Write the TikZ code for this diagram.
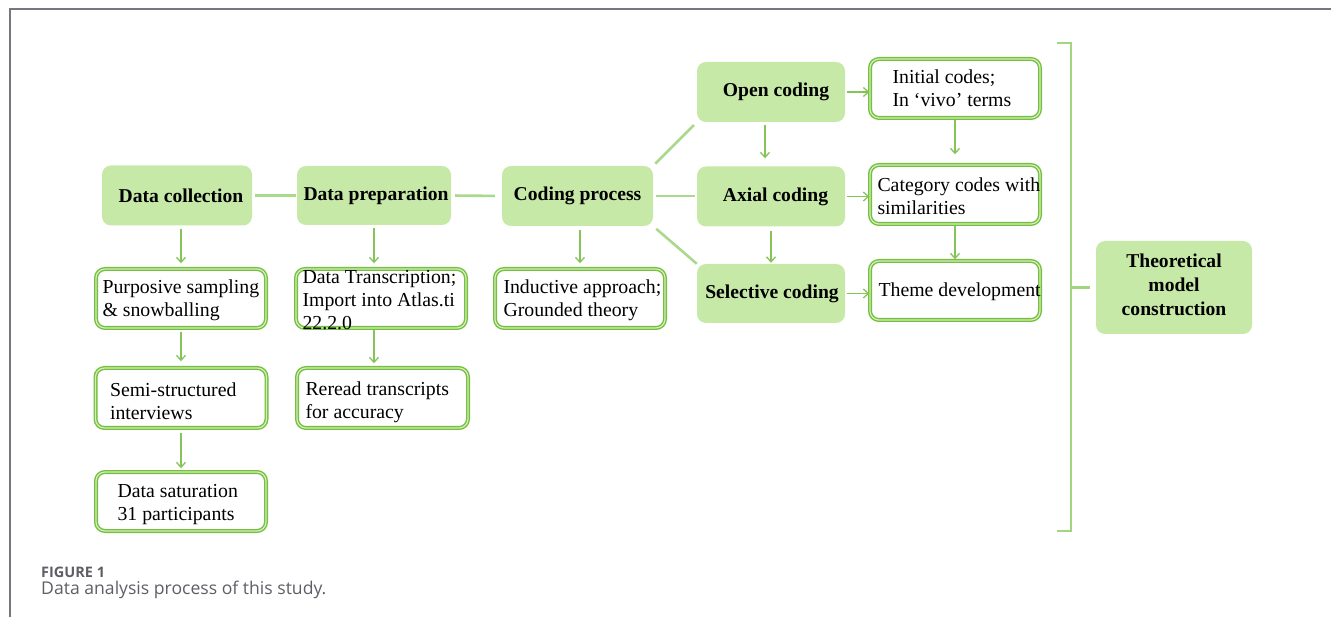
\documentclass[tikz,border=0pt]{standalone}
\usepackage{fontspec}
\setmainfont{Liberation Serif}
\newfontfamily\capfont{Open Sans}
\usetikzlibrary{arrows.meta,calc}
\definecolor{gfill}{HTML}{C6E9A8}
\definecolor{gline}{HTML}{A9D98C}
\definecolor{garrow}{HTML}{86C45A}
\definecolor{gborder}{HTML}{76C03E}
\definecolor{ginner}{HTML}{D2EEBD}
\definecolor{gbrack}{HTML}{A2D67E}
\definecolor{framec}{HTML}{76767E}
\definecolor{captxt}{HTML}{5E5E66}
\begin{document}
\begin{tikzpicture}[x=1pt,y=-1pt,
 gbox/.style={fill=gfill, rounded corners=9pt, inner sep=0pt},
 gtxt/.style={font=\fontsize{19.6}{24}\selectfont\bfseries, inner sep=0pt, align=center},
 wbox/.style={fill=white, draw=gborder, line width=1.4pt, double=ginner, double distance=1.2pt, rounded corners=9pt, inner sep=0pt},
 lbl/.style={font=\fontsize{19.8}{23}\selectfont, anchor=west, align=left, inner sep=0pt},
 arr/.style={draw=garrow, line width=1.3pt, -{Straight Barb[length=5pt,width=9pt]}},
 conn/.style={draw=gline, line width=2.6pt},
]
\useasboundingbox (0,0) rectangle (1331,617);
% frame
\draw[framec, line width=2pt] (9.5,617) -- (9.5,9.5) -- (1331,9.5);

% green boxes
\node[gbox, minimum width=150pt, minimum height=60pt] (dc) at (177,195.5) {};
\node[gbox, minimum width=154pt, minimum height=59pt] (dp) at (374,195.5) {};
\node[gbox, minimum width=151pt, minimum height=60pt] (cp) at (577.5,196) {};
\node[gbox, minimum width=148pt, minimum height=60pt] (oc) at (771,92) {};
\node[gbox, minimum width=148pt, minimum height=60pt] (ax) at (771,196.5) {};
\node[gbox, minimum width=148pt, minimum height=59pt] (sc) at (771,293.5) {};
\node[gbox, minimum width=156pt, minimum height=93pt] (tm) at (1174,287.5) {};

\node[gtxt] (dcl) at ($(dc)+(4,0)$) {Data collection};
\node[gtxt] (dpl) at ($(dp)+(2,0)$) {Data preparation};
\node[gtxt] (cpl) at (cp) {Coding process};
\node[gtxt] (ocl) at ($(oc)+(5,0)$) {Open coding};
\node[gtxt] (axl) at ($(ax)+(4.5,0)$) {Axial coding};
\node[gtxt] (scl) at ($(sc)+(1,0)$) {Selective coding};
\node[gtxt] (tml) at ($(tm)+(0,-2.5)$) {Theoretical\\model\\construction};

% white boxes
\node[wbox, minimum width=170pt, minimum height=59pt] (ps) at (181,298.5) {};
\node[wbox, minimum width=171pt, minimum height=60pt] (ss) at (181,398) {};
\node[wbox, minimum width=170pt, minimum height=59pt] (ds) at (181,501.5) {};
\node[wbox, minimum width=170pt, minimum height=59pt] (dt) at (381,298.5) {};
\node[wbox, minimum width=171pt, minimum height=60pt] (rr) at (382.5,398) {};
\node[wbox, minimum width=170pt, minimum height=59pt] (ia) at (580,298.5) {};
\node[wbox, minimum width=170pt, minimum height=59pt] (ic) at (955,88.5) {};
\node[wbox, minimum width=170pt, minimum height=59pt] (cc) at (955,194.5) {};
\node[wbox, minimum width=170pt, minimum height=59pt] (td) at (955,290.5) {};

\node[lbl] (psl) at ($(ps.west)+(7,2)$) {Purposive sampling\\\& snowballing};
\node[lbl] (ssl) at ($(ss.west)+(15,3.5)$) {Semi-structured\\interviews};
\node[lbl] (dsl) at ($(ds.west)+(22,3)$) {Data saturation\\31 participants};
\node[lbl] (dtl) at ($(dt.west)+(7,2)$) {Data Transcription;\\Import into Atlas.ti\\22.2.0};
\node[lbl] (rrl) at ($(rr.west)+(9,4)$) {Reread transcripts\\for accuracy};
\node[lbl] (ial) at ($(ia.west)+(9,2)$) {Inductive approach;\\Grounded theory};
\node[lbl] (icl) at ($(ic.west)+(23,0)$) {Initial codes;\\In `vivo' terms};
\node[lbl] (ccl) at ($(cc.west)+(8,1.5)$) {Category codes with\\similarities};
\node[lbl] (tdl) at ($(td.west)+(9,1.5)$) {Theme development};

% thick connectors
\draw[conn, shorten <=3pt, shorten >=1pt] (dc.east) -- (dp.west);
\draw[conn, shorten <=4pt, shorten >=7pt] (dp.east) -- (cp.west);
\draw[conn, shorten <=3pt, shorten >=2pt] (cp.east) -- (cp.east -| ax.west);
\draw[conn, shorten <=3pt, shorten >=4pt] (cp.north east) -- (oc.south west);
\draw[conn, shorten <=4pt, shorten >=0pt] (cp.south east) -- (sc.north west);

% arrows
\coordinate (cpa) at ($(cp.south)+(2.5,0)$);
\coordinate (oca) at ($(oc.south)+(-6,0)$);
\draw[arr, shorten <=3pt, shorten >=5pt] (ps.north |- dc.south) -- (ps.north);
\draw[arr, shorten <=3pt, shorten >=6pt] (ps.south) -- (ss.north);
\draw[arr, shorten <=4pt, shorten >=3pt] (ss.south) -- (ds.north);
\draw[arr, shorten <=3pt, shorten >=5pt] (dp.south) -- (dp.south |- dt.north);
\draw[arr, shorten <=1pt, shorten >=4pt] (dp.south |- dt.south) -- (dp.south |- rr.north);
\draw[arr, shorten <=4pt, shorten >=5pt] (cpa) -- (cpa |- ia.north);
\draw[arr, shorten <=3pt, shorten >=8pt] (oca) -- (oca |- ax.north);
\draw[arr, shorten <=4pt, shorten >=1pt] (ax.south) -- (sc.north);
\draw[arr, shorten <=1pt, shorten >=10pt] (ic.south) -- (cc.north);
\draw[arr, shorten <=1pt, shorten >=1pt] (cc.south) -- (td.north);
\draw[arr, shorten <=2pt, shorten >=0pt] (oc.east) -- (oc.east -| ic.west);
\draw[arr, shorten <=2pt, shorten >=0pt] (ax.east) -- (ax.east -| cc.west);
\draw[arr, shorten <=2pt, shorten >=0pt] (sc.east) -- (sc.east -| td.west);

% bracket
\coordinate (bt) at (1057,43);
\coordinate (bb) at (1057,531);
\coordinate (bm) at (1090,287.5);
\draw[gbrack, line width=2pt] (bt) -- (1071,43) -- (1071,531) -- (bb);
\draw[gbrack, line width=2.5pt] (1071,287.5) -- (bm);

% caption
\node[anchor=base west, inner sep=0pt, text=captxt, font=\capfont\bfseries\fontsize{14.5}{18}\selectfont] (fig) at (41,577) {FIGURE 1};
\node[anchor=base west, inner sep=0pt, text=captxt, font=\capfont\fontsize{17.6}{20}\selectfont] (cap) at (41,594) {Data analysis process of this study.};
\end{tikzpicture}
\end{document}
